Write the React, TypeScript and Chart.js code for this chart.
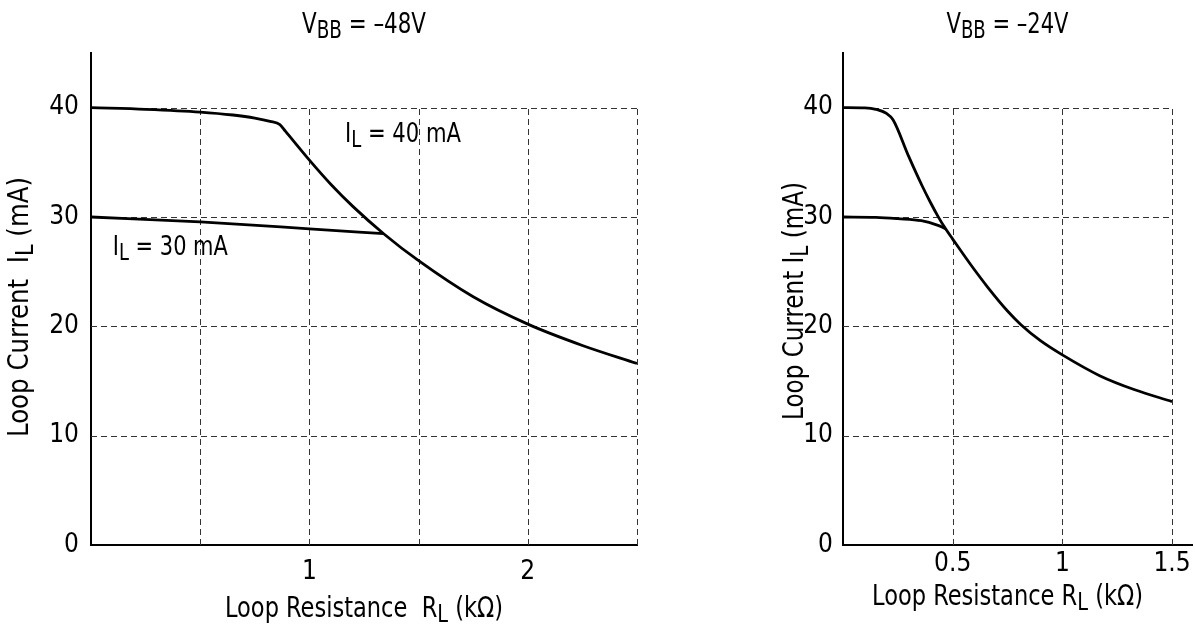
import { useEffect, useRef } from "react";
import { Chart, registerables } from "chart.js";

Chart.register(...registerables);

const FONT = '"Liberation Sans Narrow", "DejaVu Sans Condensed", "Arial Narrow", sans-serif';

// ---------- Left panel (VBB = -48V) ----------
const LEFT_R_40 = [0, 0.25, 0.5, 0.65, 0.75, 0.82, 0.865, 0.89, 1.0, 1.1, 1.2, 1.34, 1.5, 1.75, 2.0, 2.25, 2.5];
const LEFT_I_40 = [40, 39.85, 39.6, 39.33, 39.05, 38.75, 38.45, 37.85, 35.2, 32.95, 30.95, 28.47, 26.0, 22.7, 20.2, 18.25, 16.6];
const LEFT_R_30 = [0, 0.5, 1.0, 1.34];
const LEFT_I_30 = [30.0, 29.55, 28.92, 28.47];
const LEFT_X_TICKS = [1, 2];
const LEFT_X_GRID = [0.5, 1, 1.5, 2, 2.5];

// ---------- Right panel (VBB = -24V) ----------
const RIGHT_R_40 = [0, 0.1, 0.15, 0.2, 0.228, 0.3, 0.36, 0.4, 0.433, 0.467, 0.5, 0.585, 0.66, 0.75, 0.81, 0.9, 1.0, 1.17, 1.33, 1.5];
const RIGHT_I_40 = [40, 39.98, 39.85, 39.45, 38.9, 35.52, 32.88, 31.28, 30.06, 28.94, 27.98, 25.56, 23.57, 21.4, 20.17, 18.69, 17.39, 15.49, 14.2, 13.12];
const RIGHT_R_30 = [0, 0.15, 0.25, 0.357, 0.433, 0.467];
const RIGHT_I_30 = [30.0, 29.97, 29.85, 29.66, 29.23, 28.94];
const RIGHT_X_TICKS = [0.5, 1, 1.5];
const RIGHT_X_GRID = [0.5, 1, 1.5];

const Y_TICKS = [0, 10, 20, 30, 40];
const Y_GRID = [10, 20, 30, 40];

type Part = [string, boolean];
const LEFT_TITLE: Part[] = [["V", false], ["BB", true], [" = \u201348V", false]];
const RIGHT_TITLE: Part[] = [["V", false], ["BB", true], [" = \u201324V", false]];
const LEFT_X_TITLE: Part[] = [["Loop Resistance  R", false], ["L", true], [" (k\u03A9)", false]];
const RIGHT_X_TITLE: Part[] = [["Loop Resistance R", false], ["L", true], [" (k\u03A9)", false]];
const LEFT_Y_TITLE: Part[] = [["Loop Current  I", false], ["L", true], [" (mA)", false]];
const RIGHT_Y_TITLE: Part[] = [["Loop Current I", false], ["L", true], [" (mA)", false]];
const LABEL_40: Part[] = [["I", false], ["L", true], [" = 40 mA", false]];
const LABEL_30: Part[] = [["I", false], ["L", true], [" = 30 mA", false]];

type Txt = { parts: Part[]; width: number };

type Panel = {
  left: number;
  width: number;
  pad: { left: number; right: number; top: number; bottom: number };
  xMax: number;
  xTicks: number[];
  xGrid: number[];
  gridXMax: number;
  series: { x: number[]; y: number[] }[];
  title: Txt;
  xTitle: Txt;
  xTitleBaseline: number;
  yTitle: Txt;
  yTitleX: number;
  yTitleY: number;
  xTickPad: number;
  yTickPad: number;
  labels: { txt: Txt; x: number; y: number }[];
};

function drawRich(ctx: CanvasRenderingContext2D, txt: Txt, x: number, y: number, align: "left" | "center", size: number) {
  const main = `${size}px ${FONT}`;
  const sub = `${Math.round(size * 0.85)}px ${FONT}`;
  let w = 0;
  for (const [t, s] of txt.parts) {
    ctx.font = s ? sub : main;
    w += ctx.measureText(t).width;
  }
  const k = txt.width / w;
  const start = align === "center" ? x - txt.width / 2 : x;
  ctx.save();
  ctx.translate(start, y);
  ctx.scale(k, 1);
  ctx.textAlign = "left";
  ctx.textBaseline = "alphabetic";
  ctx.fillStyle = "#000";
  let cx = 0;
  for (const [t, s] of txt.parts) {
    ctx.font = s ? sub : main;
    ctx.fillText(t, cx, s ? size * 0.18 : 0);
    cx += ctx.measureText(t).width;
  }
  ctx.restore();
}

function makePlugin(p: Panel) {
  return {
    id: "decor",
    beforeDatasetsDraw(chart: any) {
      const ctx: CanvasRenderingContext2D = chart.ctx;
      const xs = chart.scales.x;
      const ys = chart.scales.y;
      ctx.save();
      ctx.strokeStyle = "#333";
      ctx.lineWidth = 1;
      ctx.setLineDash([6, 4]);
      for (const gx of p.xGrid) {
        const X = Math.round(xs.getPixelForValue(gx)) + 0.5;
        ctx.beginPath();
        ctx.moveTo(X, ys.getPixelForValue(0));
        ctx.lineTo(X, ys.getPixelForValue(40));
        ctx.stroke();
      }
      for (const gy of Y_GRID) {
        const Y = Math.round(ys.getPixelForValue(gy)) + 0.5;
        ctx.beginPath();
        ctx.moveTo(xs.getPixelForValue(0), Y);
        ctx.lineTo(xs.getPixelForValue(p.gridXMax), Y);
        ctx.stroke();
      }
      ctx.restore();
    },
    afterDraw(chart: any) {
      const ctx: CanvasRenderingContext2D = chart.ctx;
      const xs = chart.scales.x;
      const ys = chart.scales.y;
      const cX = xs.getPixelForValue(p.gridXMax / 2);
      drawRich(ctx, p.title, cX, 33, "center", 28);
      drawRich(ctx, p.xTitle, cX, p.xTitleBaseline, "center", 28);
      for (const l of p.labels) {
        drawRich(ctx, l.txt, xs.getPixelForValue(l.x), ys.getPixelForValue(l.y), "left", 27);
      }
      ctx.save();
      ctx.translate(p.yTitleX, p.yTitleY);
      ctx.rotate(-Math.PI / 2);
      drawRich(ctx, p.yTitle, 0, 0, "center", 28);
      ctx.restore();
    },
  };
}

const PANELS: Panel[] = [
  {
    left: 0,
    width: 720,
    pad: { left: 31, right: 83, top: 53, bottom: 41 },
    xMax: 2.5,
    xTicks: LEFT_X_TICKS,
    xGrid: LEFT_X_GRID,
    gridXMax: 2.5,
    series: [
      { x: LEFT_R_40, y: LEFT_I_40 },
      { x: LEFT_R_30, y: LEFT_I_30 },
    ],
    title: { parts: LEFT_TITLE, width: 124 },
    xTitle: { parts: LEFT_X_TITLE, width: 278 },
    xTitleBaseline: 617,
    yTitle: { parts: LEFT_Y_TITLE, width: 260 },
    yTitleX: 28,
    yTitleY: 307,
    xTickPad: 12,
    yTickPad: 12,
    labels: [
      { txt: { parts: LABEL_40, width: 116 }, x: 1.163, y: 36.89 },
      { txt: { parts: LABEL_30, width: 115 }, x: 0.1, y: 26.54 },
    ],
  },
  {
    left: 700,
    width: 495,
    pad: { left: 83, right: 3, top: 53, bottom: 41 },
    xMax: 1.591,
    xTicks: RIGHT_X_TICKS,
    xGrid: RIGHT_X_GRID,
    gridXMax: 1.5,
    series: [
      { x: RIGHT_R_40, y: RIGHT_I_40 },
      { x: RIGHT_R_30, y: RIGHT_I_30 },
    ],
    title: { parts: RIGHT_TITLE, width: 122 },
    xTitle: { parts: RIGHT_X_TITLE, width: 271 },
    xTitleBaseline: 605,
    yTitle: { parts: RIGHT_Y_TITLE, width: 238 },
    yTitleX: 103,
    yTitleY: 301,
    xTickPad: 4,
    yTickPad: 10,
    labels: [],
  },
];

function PanelChart({ p }: { p: Panel }) {
  const ref = useRef<HTMLCanvasElement | null>(null);
  useEffect(() => {
    if (!ref.current) return;
    const chart = new Chart(ref.current, {
      type: "line",
      data: {
        datasets: p.series.map((s) => ({
          data: s.x.map((x, i) => ({ x, y: s.y[i] })),
          borderColor: "#000",
          borderWidth: 2.8,
          pointRadius: 0,
          fill: false,
          cubicInterpolationMode: "monotone" as const,
        })),
      },
      options: {
        animation: false,
        responsive: false,
        devicePixelRatio: 1,
        layout: { padding: p.pad },
        plugins: { legend: { display: false }, tooltip: { enabled: false } },
        scales: {
          x: {
            type: "linear",
            min: 0,
            max: p.xMax,
            grid: { display: false, drawTicks: false },
            border: { display: true, color: "#000", width: 2 },
            ticks: {
              color: "#000",
              font: { family: FONT, size: 26 },
              padding: p.xTickPad,
              maxRotation: 0,
              callback: (v: any) => String(v),
            },
            afterBuildTicks: (s: any) => {
              s.ticks = p.xTicks.map((v) => ({ value: v }));
            },
            afterFit: (s: any) => {
              s.height = 40;
            },
          },
          y: {
            type: "linear",
            min: 0,
            max: 45,
            grid: { display: false, drawTicks: false },
            border: { display: true, color: "#000", width: 2 },
            ticks: {
              color: "#000",
              font: { family: FONT, size: 26 },
              padding: p.yTickPad,
              callback: (v: any) => String(v),
            },
            afterBuildTicks: (s: any) => {
              s.ticks = Y_TICKS.map((v) => ({ value: v }));
            },
            afterFit: (s: any) => {
              s.width = 60;
            },
          },
        },
      },
      plugins: [makePlugin(p)],
    } as any);
    return () => chart.destroy();
  }, [p]);
  return (
    <canvas
      ref={ref}
      width={p.width}
      height={626}
      style={{ position: "absolute", left: p.left, top: 0, width: p.width, height: 626 }}
    />
  );
}

export default function App() {
  return (
    <div style={{ position: "absolute", left: 0, top: 0, width: 1195, height: 626, overflow: "hidden", background: "#fff" }}>
      {PANELS.map((p, i) => (
        <PanelChart key={i} p={p} />
      ))}
    </div>
  );
}
